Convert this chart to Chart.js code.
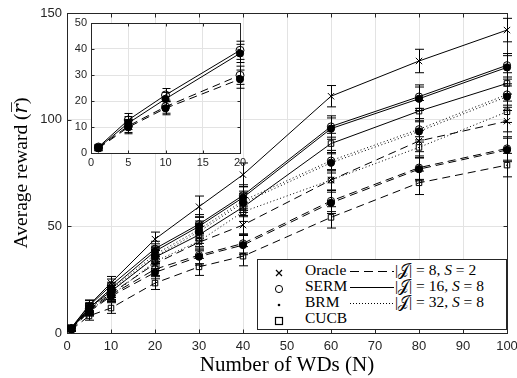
<!DOCTYPE html>
<html>
<head>
<meta charset="utf-8">
<script src="https://cdn.jsdelivr.net/npm/chart.js@4.4.0/dist/chart.umd.min.js"></script>
<style>
  body { margin: 0; background: #fff; }
  #wrap { position: relative; width: 517px; height: 378px; overflow: hidden; }
  #main { position: absolute; left: 0; top: 0; }
  #inset { position: absolute; left: 60px; top: 10px; }
  #legend {
    position: absolute; left: 257px; top: 259px; width: 250px; height: 71px;
    box-sizing: border-box; border: 1px solid #262626; background: #fff;
    font-family: "Liberation Serif", "Times New Roman", "DejaVu Serif", serif; font-size: 15.5px; color: #000;
  }
  #legend .row { position: absolute; left: 0; height: 16px; width: 100%; }
  #legend .mk { position: absolute; left: 15px; top: 2px; }
  #legend .nm { position: absolute; left: 47px; top: -1px; line-height: 16px; }
  #legend .ln { position: absolute; left: 92px; top: 7px; }
  #legend .cf { position: absolute; left: 137px; top: -1px; line-height: 16px; white-space: nowrap; }
</style>
</head>
<body>
<div id="wrap">
  <canvas id="main" width="517" height="378"></canvas>
  <canvas id="inset" width="190" height="165"></canvas>
  <div id="legend"></div>
</div>
<script>
// Eixo x: número de WDs
const nWDs = [1, 5, 10, 20, 30, 40, 60, 80, 100];

// A: |J|=8, S=2 (tracejado)   B: |J|=16, S=8 (contínuo)   C: |J|=32, S=8 (pontilhado)
const oracleB = [2.5, 13.0, 23.5, 44.0, 59.2, 74.2, 111.0, 127.5, 142.0];
const sermB   = [2.3, 12.7, 22.3, 39.5, 51.0, 64.5, 96.8, 110.8, 125.5];
const brmB    = [2.0, 11.5, 20.8, 38.3, 50.0, 63.5, 95.8, 109.8, 124.5];
const cucbB   = [2.1, 11.8, 19.5, 35.5, 46.0, 59.0, 88.8, 104.0, 117.0];

const sermC   = [2.2, 11.6, 20.2, 36.8, 48.5, 62.0, 80.8, 95.5, 111.8];
const brmC    = [2.0, 11.0, 19.4, 35.8, 47.5, 61.0, 79.8, 94.5, 110.8];
const cucbC   = [1.9, 10.5, 17.5, 33.5, 43.0, 56.8, 71.7, 87.0, 103.7];

const oracleA = [2.2, 11.0, 18.5, 32.5, 42.5, 50.6, 71.7, 90.0, 99.3];
const sermA   = [2.0, 10.4, 17.8, 29.9, 36.5, 42.0, 61.9, 77.5, 86.5];
const brmA    = [1.8, 9.9, 17.2, 28.4, 35.8, 41.2, 61.0, 76.8, 85.8];
const cucbA   = [1.5, 8.0, 11.7, 23.4, 31.0, 36.0, 54.2, 70.4, 78.7];

// barras de erro (±)
const errOracle = [1.2, 2.5, 3.0, 3.3, 5.0, 5.5, 5.0, 5.5, 5.5];
const errHigh   = [1.0, 2.5, 3.0, 3.5, 4.5, 5.0, 5.0, 5.5, 5.5];
const errMid    = [1.0, 2.2, 2.8, 3.2, 4.0, 4.5, 4.8, 5.0, 5.0];
const errLow    = [0.8, 2.0, 2.5, 3.0, 4.0, 4.5, 5.0, 5.5, 5.5];

// inset (N até 20)
const insetN = [1, 5, 10, 20];
const insetErr = [1.0, 2.5, 2.5, 3.5];

// ticks
const mainXTicks = [0, 10, 20, 30, 40, 50, 60, 70, 80, 90, 100];
const mainYTicks = [0, 50, 100, 150];
const insetXTicks = [0, 5, 10, 15, 20];
const insetYTicks = [0, 10, 20, 30, 40, 50];

// legenda
const markerNames = ["Oracle", "SERM", "BRM", "CUCB"];
const cfgJ = ["8", "16", "32"];
const cfgS = ["2", "8", "8"];

const DASH = { A: [8, 5], B: [], C: [1, 2.5] };
const SERIF = "'Liberation Serif', 'Times New Roman', 'DejaVu Serif', serif";
const SANS = "'Liberation Sans', Arial, 'DejaVu Sans', sans-serif";

function pts(xs, ys) { return xs.map((x, i) => ({ x, y: ys[i] })); }

function ds(ys, errs, cfg, marker, xs = nWDs, r = 3.6) {
  const filled = marker === "circle-f";
  return {
    data: pts(xs, ys.slice(0, xs.length)),
    errors: errs.slice(0, xs.length),
    borderColor: "#000",
    borderWidth: 1,
    borderDash: DASH[cfg],
    pointStyle: filled ? "circle" : marker,
    pointRadius: marker === "crossRot" ? 4.5 : marker === "rect" ? 3.9 : r,
    pointBorderWidth: 1,
    pointBorderColor: "#000",
    pointBackgroundColor: filled ? "#000" : "rgba(0,0,0,0)",
    fill: false,
    tension: 0,
    clip: false
  };
}

// barras de erro com as escalas do chart
const errorBars = {
  id: "errorBars",
  afterDatasetsDraw(chart, args, opts) {
    const { ctx, scales: { x, y } } = chart;
    const cap = opts.cap || 4.5;
    ctx.save();
    ctx.strokeStyle = "#000"; ctx.lineWidth = 1; ctx.setLineDash([]);
    chart.data.datasets.forEach(d => {
      if (!d.errors) return;
      d.data.forEach((p, j) => {
        const px = Math.round(x.getPixelForValue(p.x)) + 0.5;
        const y1 = y.getPixelForValue(p.y - d.errors[j]);
        const y2 = y.getPixelForValue(p.y + d.errors[j]);
        ctx.beginPath();
        ctx.moveTo(px, y1); ctx.lineTo(px, y2);
        ctx.moveTo(px - cap, y1); ctx.lineTo(px + cap, y1);
        ctx.moveTo(px - cap, y2); ctx.lineTo(px + cap, y2);
        ctx.stroke();
      });
    });
    ctx.restore();
  }
};

// caixa + ticks para dentro (estilo matlab)
function makeFrame(len) {
  return {
    id: "frame",
    beforeDatasetsDraw(chart) {
      const { ctx, chartArea: a, scales: { x, y } } = chart;
      const L = Math.round(a.left) + 0.5, R = Math.round(a.right) + 0.5;
      const T = Math.round(a.top) + 0.5, B = Math.round(a.bottom) + 0.5;
      ctx.save();
      ctx.strokeStyle = "#262626"; ctx.lineWidth = 1; ctx.setLineDash([]);
      ctx.strokeRect(L, T, R - L, B - T);
      ctx.beginPath();
      x.ticks.forEach(t => {
        const px = Math.round(x.getPixelForValue(t.value)) + 0.5;
        ctx.moveTo(px, B); ctx.lineTo(px, B - len);
        ctx.moveTo(px, T); ctx.lineTo(px, T + len);
      });
      y.ticks.forEach(t => {
        const py = Math.round(y.getPixelForValue(t.value)) + 0.5;
        ctx.moveTo(L, py); ctx.lineTo(L + len, py);
        ctx.moveTo(R, py); ctx.lineTo(R - len, py);
      });
      ctx.stroke();
      ctx.restore();
    }
  };
}

const whiteArea = {
  id: "whiteArea",
  beforeDraw(chart) {
    const { ctx, chartArea: a } = chart;
    ctx.save(); ctx.fillStyle = "#fff";
    ctx.fillRect(a.left, a.top, a.right - a.left, a.bottom - a.top);
    ctx.restore();
  }
};

function axis(min, max, ticks, size, width, height, pad, title) {
  const s = {
    type: "linear", min, max,
    afterBuildTicks(sc) { sc.ticks = ticks.map(v => ({ value: v })); },
    ticks: { autoSkip: false, maxRotation: 0, color: "#262626", padding: pad,
             font: { family: SANS, size } },
    grid: { color: "#e3e3e3", drawTicks: false, lineWidth: 1 },
    border: { display: false }
  };
  // força o tamanho da área do gráfico
  s.afterFit = sc => {
    if (width) sc.width = width;
    if (height) sc.height = height;
    sc.paddingLeft = 0; sc.paddingRight = 0; sc.paddingTop = 0; sc.paddingBottom = 0;
  };
  if (title) s.title = title;
  return s;
}

const mainSets = [
  ds(oracleB, errOracle, "B", "crossRot"),
  ds(sermB, errHigh, "B", "circle"),
  ds(brmB, errHigh, "B", "circle-f"),
  ds(cucbB, errMid, "B", "rect"),
  ds(sermC, errMid, "C", "circle"),
  ds(brmC, errMid, "C", "circle-f"),
  ds(cucbC, errMid, "C", "rect"),
  ds(oracleA, errMid, "A", "crossRot"),
  ds(sermA, errLow, "A", "circle"),
  ds(brmA, errLow, "A", "circle-f"),
  ds(cucbA, errLow, "A", "rect")
];

new Chart(document.getElementById("main"), {
  type: "line",
  data: { datasets: mainSets },
  options: {
    responsive: false, animation: false,
    layout: { padding: { top: 13, right: 10, left: 0, bottom: 0 } },
    plugins: { legend: { display: false }, tooltip: { enabled: false }, errorBars: { cap: 4.5 } },
    scales: {
      x: axis(0, 100, mainXTicks, 13, 0, 45, 6, {
        display: true, text: "Number of WDs (N)", color: "#000",
        font: { family: SERIF, size: 21 }, padding: { top: 0, bottom: 0 }
      }),
      y: axis(0, 150, mainYTicks, 13, 67, 0, 5, {
        display: true, text: "Average reward (\u{1D45F}\u0305)", color: "#000",
        font: { family: SERIF, size: 19.5 }, padding: { top: 10, bottom: 0 }
      })
    }
  },
  plugins: [makeFrame(4), errorBars]
});

const insetSets = [
  ds(sermB, insetErr, "B", "circle", insetN, 4),
  ds(brmB, insetErr, "B", "circle-f", insetN, 3.6),
  ds(sermA, insetErr, "A", "circle", insetN, 4),
  ds(brmA, insetErr, "A", "circle-f", insetN, 3.6)
];

new Chart(document.getElementById("inset"), {
  type: "line",
  data: { datasets: insetSets },
  options: {
    responsive: false, animation: false,
    layout: { padding: { top: 13, right: 10, left: 0, bottom: 0 } },
    plugins: { legend: { display: false }, tooltip: { enabled: false }, errorBars: { cap: 4 } },
    scales: {
      x: axis(0, 20, insetXTicks, 11, 0, 22, 3),
      y: axis(0, 50, insetYTicks, 11, 31, 0, 4)
    }
  },
  plugins: [whiteArea, makeFrame(3), errorBars]
});

// legenda em html
const markerSvg = [
  '<svg width="12" height="12"><path d="M3 3L9 9M9 3L3 9" stroke="#000" stroke-width="1.2"/></svg>',
  '<svg width="12" height="12"><circle cx="6" cy="6" r="3.6" fill="none" stroke="#000" stroke-width="1"/></svg>',
  '<svg width="12" height="12"><circle cx="6" cy="6" r="1.3" fill="#000"/></svg>',
  '<svg width="12" height="12"><rect x="2.5" y="2.5" width="7" height="7" fill="none" stroke="#000" stroke-width="1.2"/></svg>'
];
const lineDash = ["9 5", "", "1 2"];
const leg = document.getElementById("legend");
let html = "";
markerNames.forEach((name, i) => {
  html += `<div class="row" style="top:${3 + i * 16}px"><span class="mk">${markerSvg[i]}</span><span class="nm">${name}</span>`;
  if (i < 3) {
    html += `<svg class="ln" width="44" height="3"><line x1="0" y1="1.5" x2="44" y2="1.5" stroke="#000" stroke-width="1" ${lineDash[i] ? `stroke-dasharray="${lineDash[i]}"` : ""}/></svg>`;
    html += `<span class="cf">|𝒥| = ${cfgJ[i]}, <i>S</i> = ${cfgS[i]}</span>`;
  }
  html += "</div>";
});
leg.innerHTML = html;
</script>
</body>
</html>
